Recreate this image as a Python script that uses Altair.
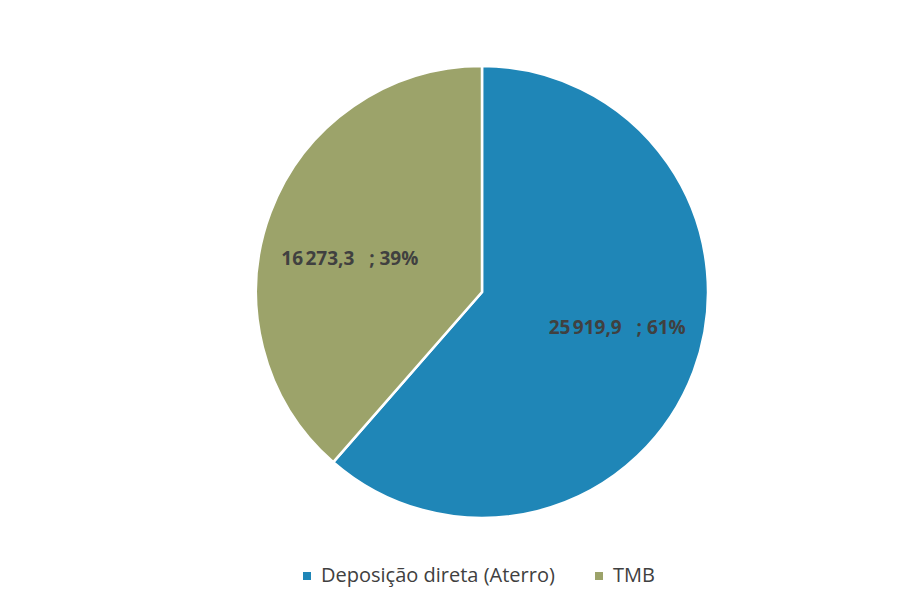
import altair as alt
import pandas as pd

categories = ["Deposição direta (Aterro)", "TMB"]
values = [25919.9, 16273.3]
labels = ["25\u202f919,9\u00a0\u00a0\u00a0; 61%", "16\u202f273,3\u00a0\u00a0\u00a0; 39%"]
colors = ["#1f86b7", "#9ca36a"]

df = pd.DataFrame({"cat": categories, "val": values, "lab": labels, "ord": [0, 1]})

CX, CY, R = 474, 284, 226

pie = alt.Chart(df).mark_arc(outerRadius=R, stroke="white", strokeWidth=2.5).encode(
    theta=alt.Theta("val:Q", stack=True),
    order=alt.Order("ord:Q"),
    x=alt.value(CX),
    y=alt.value(CY),
    color=alt.Color(
        "cat:N",
        scale=alt.Scale(domain=categories, range=colors),
        sort=categories,
        legend=alt.Legend(
            title=None,
            orient="none",
            legendX=289,
            legendY=558,
            direction="horizontal",
            symbolType="square",
            symbolSize=64,
            symbolStrokeWidth=0,
            labelFont="Open Sans",
            labelFontSize=20,
            labelColor="#404040",
            labelLimit=0,
            columnPadding=34,
            labelOffset=4,
        ),
    ),
)

text_base = (
    alt.Chart(df)
    .transform_joinaggregate(total="sum(val)")
    .transform_window(cum="sum(val)", sort=[alt.SortField("ord")])
    .transform_calculate(ang="2 * PI * (datum.cum - datum.val / 2) / datum.total")
)

def label_layer(cat, dx, dy):
    return text_base.transform_filter(alt.datum.cat == cat).mark_text(
        radius=138,
        font="Open Sans",
        fontSize=19,
        fontWeight="bold",
        color="#404040",
        align="center",
        baseline="middle",
        dx=dx,
        dy=dy,
    ).encode(
        theta=alt.Theta("ang:Q", scale=None),
        x=alt.value(CX),
        y=alt.value(CY),
        text="lab:N",
    )

chart = (
    alt.layer(pie, label_layer(categories[0], 6, -13), label_layer(categories[1], -3, 16))
    .properties(
        width=906,
        height=594,
        autosize=alt.AutoSizeParams(type="none"),
        padding=0,
        background="white",
    )
    .configure_view(stroke=None)
)

chart.save("out.html", embed_options={"renderer": "svg", "actions": False})
